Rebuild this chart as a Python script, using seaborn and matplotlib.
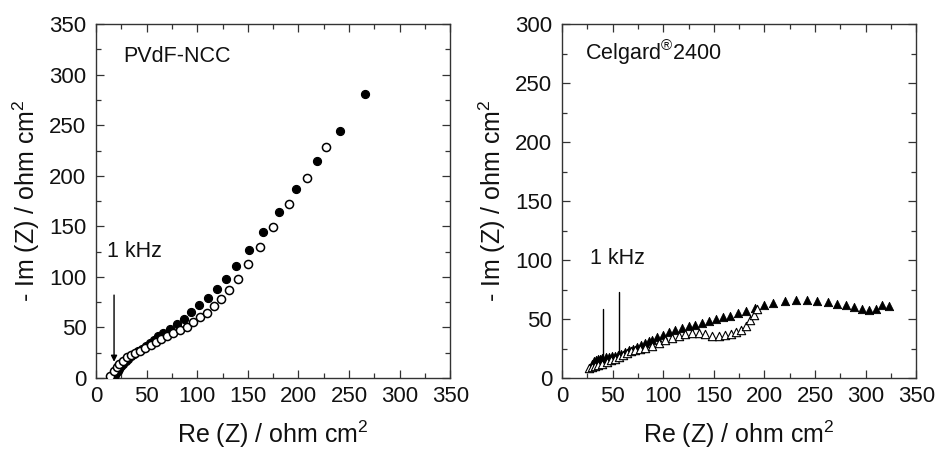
import numpy as np
import pandas as pd
import matplotlib
matplotlib.use("Agg")
import matplotlib.pyplot as plt
import seaborn as sns
from matplotlib.ticker import MultipleLocator

# ---- data: PVdF-NCC (left) ----
pvdf_filled_x = [18, 19, 20, 21.5, 23, 25, 27, 29.5, 32, 35, 38, 41.5, 45, 49, 53, 57.5,
                 61.6, 66.6, 73.2, 79.8, 86.7, 94.3, 102.2, 110.7, 119.3, 128.5, 138.4,
                 151.3, 164.8, 180.6, 197.4, 218, 240.6, 266]
pvdf_filled_y = [1, 3, 5, 7, 9, 11.5, 14, 16.5, 19, 21.5, 24, 26.5, 29, 32, 35, 38,
                 41.2, 44.4, 48.7, 53.7, 58.6, 65.2, 71.8, 79, 87.9, 98.4, 110.3,
                 126.8, 144.2, 164.3, 187.3, 215, 244.6, 280.5]
pvdf_open_x = [13.8, 17.8, 20.4, 23, 26.4, 30.3, 34.3, 38.9, 43.5, 48.8, 54.1, 59.3, 64.6,
               70.5, 76.5, 83.1, 90, 96.2, 102.8, 109.7, 117, 123.3, 131.8, 140.1, 150.6,
               162.1, 174.7, 190.5, 208.3, 227.4]
pvdf_open_y = [2.3, 7.2, 10.6, 13.8, 17.1, 20.4, 22.4, 24.4, 27, 29.7, 32.3, 35.6, 38.3,
               41.5, 44.2, 47.5, 50, 55, 60.2, 64.2, 70.8, 78, 86.6, 98.4, 112.9,
               129.7, 149.5, 172.2, 198.2, 228.5]

# ---- data: Celgard 2400 (right) ----
cel_filled_x = [30, 32, 34, 36, 38, 40, 43, 46, 49, 52, 55, 58, 62, 66, 70, 74, 78, 82, 86,
                88.9, 93.9, 99.5, 105.5, 112, 118.6, 125.2, 131.8, 138.4, 145, 152.3, 158.9,
                166.4, 174, 181.6, 190.5, 199.4, 208.6, 220.8, 231.7, 241.6, 252.1, 262.7,
                271.9, 281.1, 289, 296.6, 303.2, 309.8, 316.4, 323]
cel_filled_y = [12, 14, 15, 16, 16.5, 17, 17.5, 18, 18.5, 19, 19.5, 20.5, 22, 23.5, 25, 26.5,
                28, 29.5, 31, 32.5, 34.7, 36.7, 38.7, 40.4, 42.3, 43.7, 45.2, 46.6, 48, 50,
                51.4, 52.8, 55, 56.4, 59.3, 61.8, 63.5, 64.9, 66.3, 66.3, 65.5, 64.3,
                62.9, 62.1, 60.1, 58.7, 57.9, 58.7, 61.5, 60.7]
cel_open_x = [27, 30, 33, 36, 40, 44, 48, 52, 56, 60, 64, 68, 72, 77, 82.4, 89, 95.6,
              102.2, 108.8, 115.3, 121.9, 128.5, 135.1, 141.7, 148.3, 154.9, 161.5,
              167.1, 172.4, 177, 181.6, 185.6, 189.5, 192.5]
cel_open_y = [8.5, 9, 10, 11, 12, 13.5, 15, 16.5, 18, 19.5, 21, 22.5, 24, 25, 25.4, 27.4,
              29.6, 31.9, 33.9, 35.8, 37.5, 38.1, 38.1, 37.3, 35.8, 35.8, 36.1,
              37.3, 39, 40.9, 43.7, 48.8, 53.6, 58.5]

sns.set_theme(style="white")
plt.rcParams['font.family'] = ['Liberation Sans', 'DejaVu Sans']
plt.rcParams['mathtext.fontset'] = 'custom'
plt.rcParams['mathtext.rm'] = 'Liberation Sans'

fig = plt.figure(figsize=(9.37, 4.53), dpi=100)
ax1 = fig.add_axes([0.1025, 0.1656, 0.378, 0.781])
ax2 = fig.add_axes([0.5998, 0.1656, 0.378, 0.781])

df1f = pd.DataFrame({"x": pvdf_filled_x, "y": pvdf_filled_y})
df1o = pd.DataFrame({"x": pvdf_open_x, "y": pvdf_open_y})
df2f = pd.DataFrame({"x": cel_filled_x, "y": cel_filled_y})
df2o = pd.DataFrame({"x": cel_open_x, "y": cel_open_y})

sns.scatterplot(data=df1f, x="x", y="y", ax=ax1, marker="o", s=34, color="black",
                edgecolor="black", linewidth=0.8, zorder=3)
sns.scatterplot(data=df1o, x="x", y="y", ax=ax1, marker="o", s=34, color="white",
                edgecolor="black", linewidth=1.1, zorder=4)
sns.scatterplot(data=df2f, x="x", y="y", ax=ax2, marker="^", s=36, color="black",
                edgecolor="black", linewidth=0.6, zorder=3)
sns.scatterplot(data=df2o, x="x", y="y", ax=ax2, marker="^", s=36, color="white",
                edgecolor="black", linewidth=0.8, zorder=4)

ylabel = r"- Im (Z) / ohm cm$^2$"
xlabel = r"Re (Z) / ohm cm$^2$"

for ax, ymax in ((ax1, 350), (ax2, 300)):
    ax.set_xlim(0, 350)
    ax.set_ylim(0, ymax)
    ax.xaxis.set_major_locator(MultipleLocator(50))
    ax.xaxis.set_minor_locator(MultipleLocator(25))
    ax.yaxis.set_major_locator(MultipleLocator(50))
    ax.yaxis.set_minor_locator(MultipleLocator(25))
    ax.tick_params(which="both", direction="in", top=True, right=True,
                   bottom=True, left=True, color="#333333", width=0.9)
    ax.tick_params(which="major", length=6, labelsize=16, labelcolor="#111111")
    ax.tick_params(axis="x", which="major", pad=6)
    ax.tick_params(axis="y", which="major", pad=7)
    ax.tick_params(which="minor", length=3.5)
    for sp in ax.spines.values():
        sp.set_color("#333333")
        sp.set_linewidth(1.0)
    ax.set_xlabel(xlabel, fontsize=18, labelpad=8, color="#111111")
    ax.set_ylabel(ylabel, fontsize=18, labelpad=5, color="#111111")

ax1.text(27, 318, "PVdF-NCC", fontsize=15.5, va="center", ha="left", color="#111111")
ax1.text(11, 125, "1 kHz", fontsize=15.5, va="center", ha="left", color="#111111")
ax1.annotate("", xy=(17.8, 16), xytext=(17.8, 82),
             arrowprops=dict(arrowstyle="-|>", color="black", lw=1.0,
                             mutation_scale=9, shrinkA=0, shrinkB=0))

ax2.text(23, 275.7, "Celgard$^{\u00ae}$2400", fontsize=15.5, va="center", ha="left",
         color="#111111")
ax2.text(28, 101.6, "1 kHz", fontsize=15.5, va="center", ha="left", color="#111111")
ax2.plot([40.2, 40.2], [14, 58.4], color="black", lw=1.0, zorder=5)
ax2.plot([56.7, 56.7], [22, 72.8], color="black", lw=1.0, zorder=5)

fig.savefig("out.png", dpi=100, facecolor="white")
